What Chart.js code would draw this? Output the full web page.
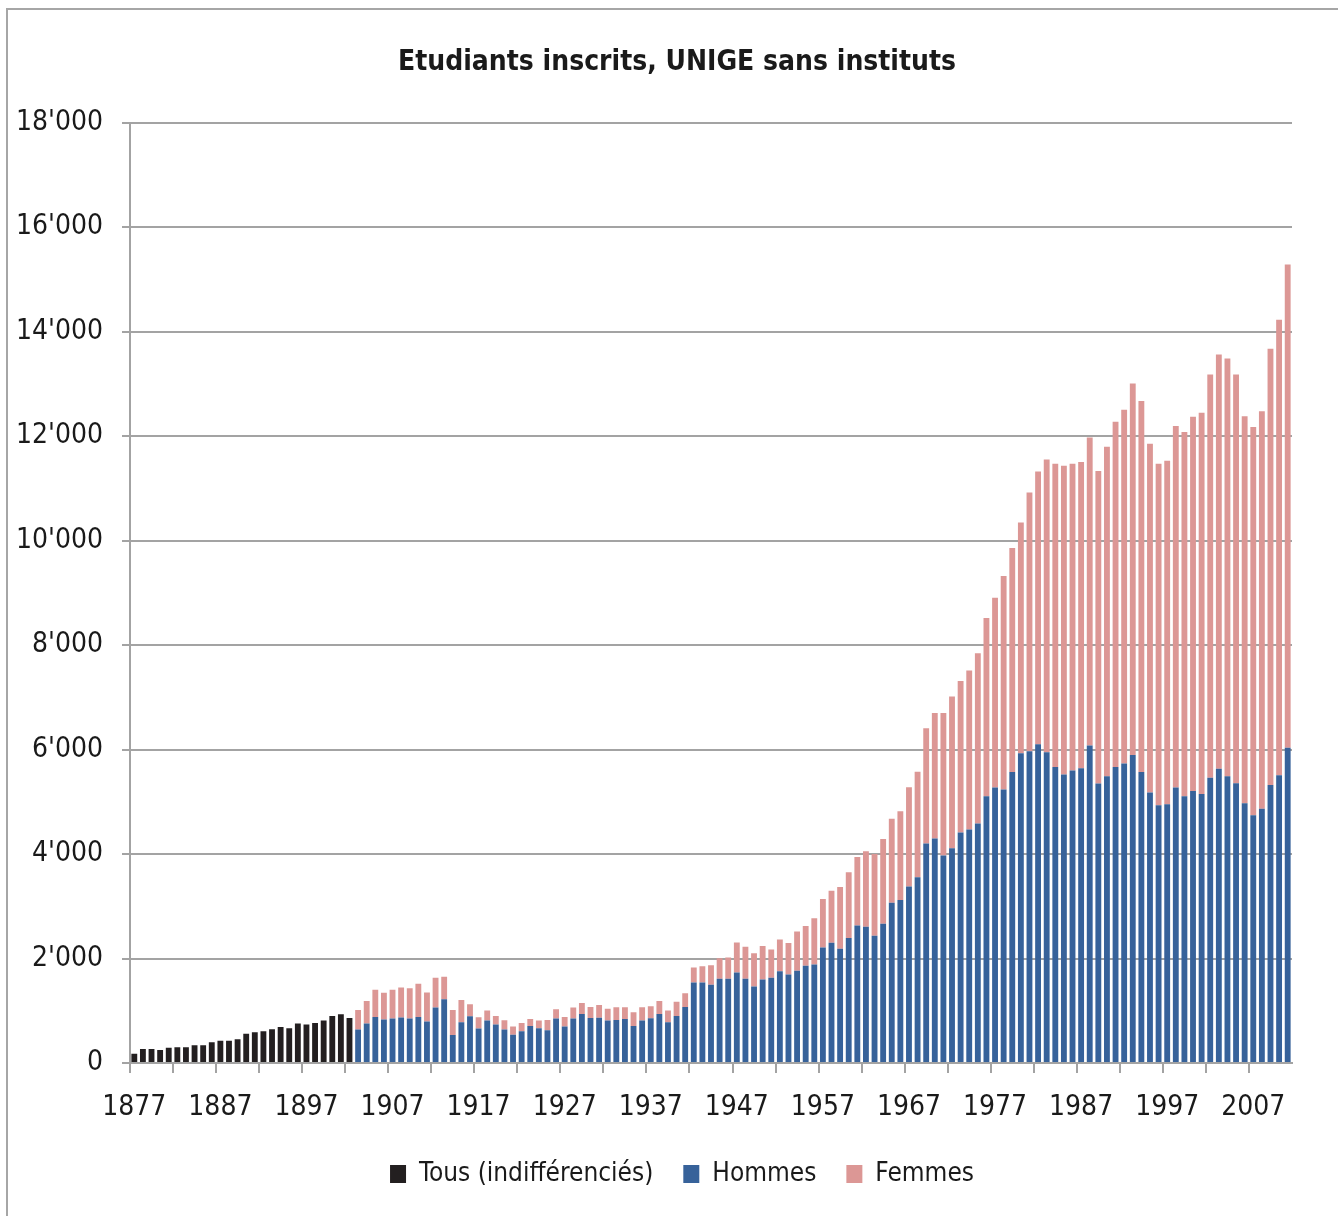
<!DOCTYPE html>
<html>
<head>
<meta charset="utf-8">
<title>Etudiants inscrits, UNIGE sans instituts</title>
<script src="https://cdn.jsdelivr.net/npm/chart.js@4.4.1/dist/chart.umd.min.js"></script>
<style>
  html, body { margin: 0; padding: 0; background: #ffffff; }
  #wrap { position: relative; width: 1338px; height: 1216px; }
</style>
</head>
<body>
<div id="wrap"><canvas id="myChart" width="1338" height="1216"></canvas></div>
<script>
// années 1877 - 2011
const firstYear = 1877;
const lastYear = 2011;

// 1877-1902 : pas de distinction hommes / femmes
const tousValues = [175, 270, 268, 250, 290, 300, 300, 340, 340, 397,
  428, 428, 454, 562, 588, 607, 646, 690, 665, 754,
  735, 767, 812, 901, 933, 863];

// 1903-2011
const hommesValues = [640, 754, 882, 831, 850, 869, 850, 882, 793, 1061,
  1221, 537, 780, 895, 659, 812, 735, 640, 543, 607,
  710, 665, 627, 850, 697, 850, 940, 860, 866, 812,
  825, 844, 710, 812, 857, 940, 780, 901, 1074, 1541,
  1541, 1496, 1611, 1611, 1732, 1611, 1464, 1598, 1630, 1755,
  1694, 1768, 1860, 1886, 2209, 2302, 2187, 2392, 2634, 2608,
  2436, 2666, 3069, 3120, 3376, 3554, 4203, 4296, 3970, 4110,
  4414, 4469, 4584, 5108, 5272, 5236, 5568, 5927, 5965, 6099,
  5946, 5664, 5524, 5600, 5642, 6077, 5351, 5491, 5664, 5735,
  5894, 5568, 5179, 4935, 4954, 5275, 5108, 5204, 5147, 5460,
  5632, 5491, 5357, 4974, 4743, 4866, 5319, 5510, 6036];

const femmesValues = [376, 435, 518, 512, 550, 576, 582, 633, 556, 569,
  428, 479, 428, 230, 217, 192, 166, 178, 154, 160,
  134, 147, 198, 179, 185, 211, 208, 210, 246, 224,
  243, 224, 262, 256, 230, 249, 224, 269, 262, 287,
  313, 377, 396, 409, 575, 614, 639, 640, 543, 610,
  602, 750, 762, 886, 930, 997, 1182, 1258, 1310, 1444,
  1565, 1623, 1604, 1697, 1904, 2021, 2203, 2404, 2730, 2904,
  2900, 3043, 3261, 3408, 3634, 4085, 4290, 4417, 4954, 5221,
  5604, 5806, 5907, 5870, 5860, 5895, 5978, 6304, 6611, 6770,
  7110, 7103, 6674, 6535, 6573, 6917, 6969, 7167, 7301, 7720,
  7928, 7993, 7820, 7403, 7430, 7607, 8351, 8716, 9250];

const yTicks = [0, 2000, 4000, 6000, 8000, 10000, 12000, 14000, 16000, 18000];

const years = [];
for (let y = firstYear; y <= lastYear; y++) {
    years.push(String(y));
}

const nEarly = tousValues.length;
const nLate = hommesValues.length;
const tousData = tousValues.concat(Array(nLate).fill(null));
const hommesData = Array(nEarly).fill(null).concat(hommesValues);
const femmesData = Array(nEarly).fill(null).concat(femmesValues);

const FONT = '"DejaVu Sans Condensed", "DejaVu Sans", sans-serif';
const GRID = '#a3a3a3';
const TEXT = '#1a1a1a';

Chart.defaults.font.family = FONT;
Chart.defaults.color = TEXT;

// cadre gris autour du graphique
const framePlugin = {
    id: 'frame',
    beforeDraw(chart) {
        const c = chart.ctx;
        c.save();
        c.fillStyle = '#ffffff';
        c.fillRect(0, 0, chart.width, chart.height);
        c.strokeStyle = '#a6a6a6';
        c.lineWidth = 2;
        c.strokeRect(7, 9, chart.width + 50, chart.height + 50);
        c.restore();
    }
};

// titre et légende centrés sur le cadre et non sur la zone du graphique
const shiftPlugin = {
    id: 'shiftBlocks',
    afterLayout(chart) {
        if (chart.titleBlock) {
            chart.titleBlock.left += 31;
            chart.titleBlock.right += 31;
        }
        if (chart.legend) {
            chart.legend.left += 36;
            chart.legend.right += 36;
        }
    }
};

function formatThousands(v) {
    return String(v).replace(/\B(?=(\d{3})+(?!\d))/g, "'");
}

const ctx = document.getElementById('myChart').getContext('2d');
const myChart = new Chart(ctx, {
    type: 'bar',
    data: {
        labels: years,
        datasets: [
            {
                label: 'Tous (indifférenciés)',
                data: tousData,
                backgroundColor: '#231f20',
            },
            {
                label: 'Hommes',
                data: hommesData,
                backgroundColor: '#37629a',
            },
            {
                label: 'Femmes',
                data: femmesData,
                backgroundColor: '#dc9795',
            }
        ]
    },
    options: {
        responsive: false,
        animation: false,
        barPercentage: 0.68,
        categoryPercentage: 1.0,
        layout: {
            padding: { top: 46, right: 46, bottom: 19, left: 0 }
        },
        plugins: {
            title: {
                display: true,
                text: 'Etudiants inscrits, UNIGE sans instituts',
                color: TEXT,
                font: { size: 28, weight: 'bold' },
                padding: { top: 0, bottom: 43 }
            },
            legend: {
                position: 'bottom',
                labels: {
                    boxWidth: 16,
                    boxHeight: 18,
                    padding: 30,
                    color: TEXT,
                    font: { size: 26 }
                }
            },
            tooltip: { enabled: false }
        },
        scales: {
            x: {
                stacked: true,
                offset: true,
                grid: {
                    offset: true,
                    drawOnChartArea: false,
                    drawTicks: true,
                    tickLength: 10,
                    lineWidth: 2,
                    color: (c) => (c.index % 5 === 0 ? GRID : 'rgba(0,0,0,0)')
                },
                border: { display: true, color: GRID, width: 2 },
                ticks: {
                    autoSkip: false,
                    maxRotation: 0,
                    minRotation: 0,
                    padding: 18,
                    color: TEXT,
                    font: { size: 28 },
                    callback: function (val, index) {
                        return index % 10 === 0 ? this.getLabelForValue(val) : '';
                    }
                },
                afterFit: (scale) => { scale.height = 68; }
            },
            y: {
                stacked: true,
                min: yTicks[0],
                max: yTicks[yTicks.length - 1],
                afterBuildTicks: (scale) => {
                    scale.ticks = yTicks.map(v => ({ value: v }));
                },
                grid: {
                    color: GRID,
                    lineWidth: 2,
                    drawTicks: true,
                    tickLength: 8
                },
                border: { display: true, color: GRID, width: 2 },
                ticks: {
                    padding: 19,
                    color: TEXT,
                    font: { size: 28 },
                    callback: (v) => formatThousands(v)
                },
                afterFit: (scale) => { scale.width = 130; }
            }
        }
    },
    plugins: [framePlugin, shiftPlugin]
});
</script>
</body>
</html>
